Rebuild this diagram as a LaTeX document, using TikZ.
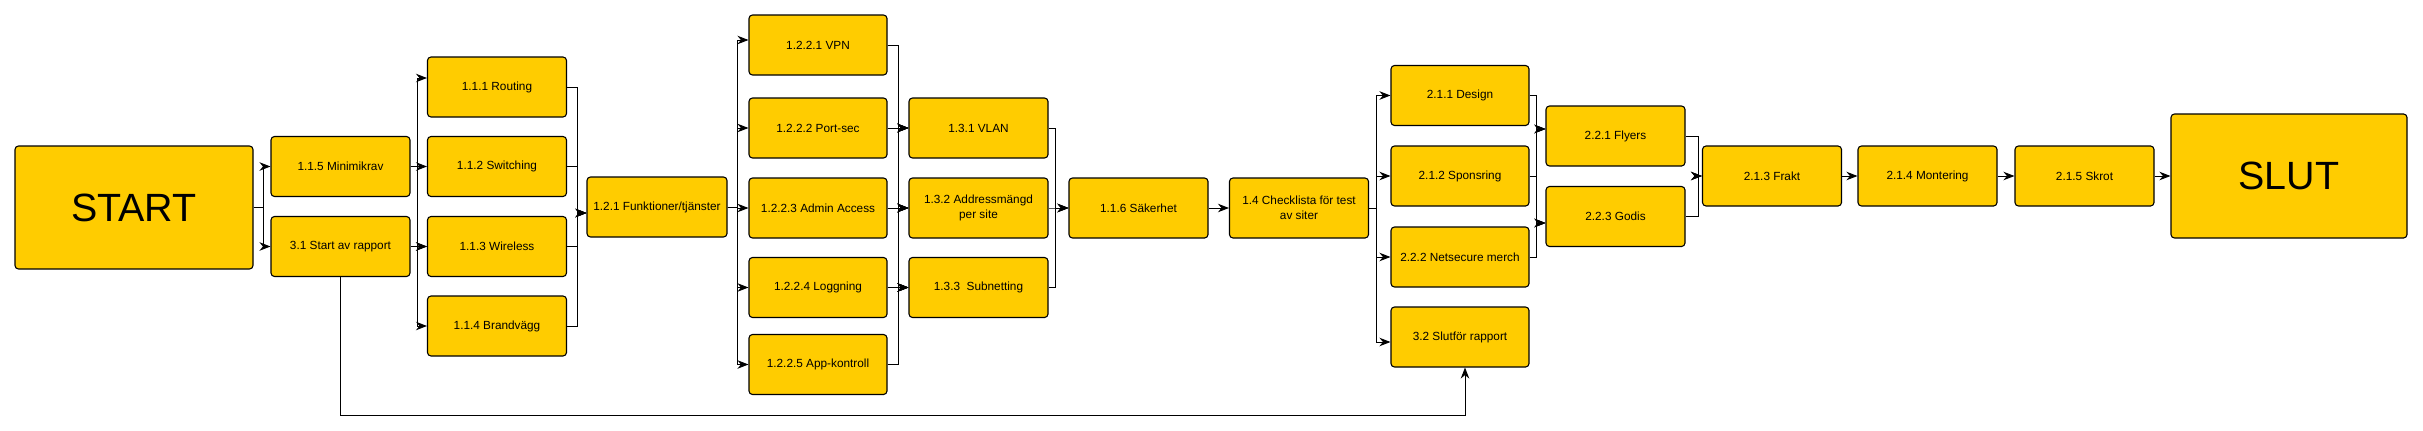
\documentclass[tikz,border=0pt]{standalone}
\usepackage{fontspec}
\setmainfont{Liberation Sans}
\usetikzlibrary{arrows.meta}
\definecolor{boxfill}{HTML}{FFCC00}
\begin{document}
\begin{tikzpicture}[x=1pt,y=-1pt,
  box/.style={draw=black,line width=1.1pt,fill=boxfill,rounded corners=3.5pt,
    minimum width=139pt,minimum height=60pt,inner sep=0pt,align=center,
    font=\fontsize{11.8}{15.3}\selectfont},
  bigbox/.style={box,font=\fontsize{39.4}{44}\selectfont},
  arr/.style={draw=black,line width=0.9pt,-{Stealth[length=11pt,width=8.5pt,inset=3.5pt]}},
  ln/.style={draw=black,line width=0.9pt}]
\useasboundingbox (0,0) rectangle (2423,431);
% nodes
\node[bigbox,minimum width=238pt,minimum height=123pt] (start) at (134,207.5) {START};
\node[box] (m115) at (340.5,166.5) {1.1.5 Minimikrav};
\node[box] (r31) at (340.5,246.5) {3.1 Start av rapport};
\node[box] (r111) at (497,87) {1.1.1 Routing};
\node[box] (r112) at (497,166.5) {1.1.2 Switching};
\node[box] (r113) at (497,246.5) {1.1.3 Wireless};
\node[box] (r114) at (497,326) {1.1.4 Brandvägg};
\node[box,minimum width=140pt] (f121) at (657,207) {1.2.1 Funktioner/tjänster};
\node[box,minimum width=138pt] (v1) at (818,45) {1.2.2.1 VPN};
\node[box,minimum width=138pt] (v2) at (818,128) {1.2.2.2 Port-sec};
\node[box,minimum width=138pt] (v3) at (818,208) {1.2.2.3 Admin Access};
\node[box,minimum width=138pt] (v4) at (818,287.5) {1.2.2.4 Loggning};
\node[box,minimum width=138pt] (v5) at (818,364.5) {1.2.2.5 App-kontroll};
\node[box] (l131) at (978.5,128) {1.3.1 VLAN};
\node[box] (l132) at (978.5,208) {1.3.2 Addressmängd\\per site};
\node[box] (l133) at (978.5,287.5) {1.3.3\ \ Subnetting};
\node[box] (s116) at (1138.5,208) {1.1.6 Säkerhet};
\node[box] (c14) at (1299,208) {1.4 Checklista för test\\av siter};
\node[box,minimum width=138pt] (d211) at (1460,95.5) {2.1.1 Design};
\node[box,minimum width=138pt] (d212) at (1460,176) {2.1.2 Sponsring};
\node[box,minimum width=138pt] (d222) at (1460,257) {2.2.2 Netsecure merch};
\node[box,minimum width=138pt] (d32) at (1460,337) {3.2 Slutför rapport};
\node[box] (g221) at (1615.5,136) {2.2.1 Flyers};
\node[box] (g223) at (1615.5,216.5) {2.2.3 Godis};
\node[box] (k213) at (1772,176) {2.1.3 Frakt};
\node[box] (k214) at (1927.5,176) {2.1.4 Montering};
\node[box] (k215) at (2084.5,176) {2.1.5 Skrot};
\node[bigbox,minimum width=236pt,minimum height=124pt] (slut) at (2289,176) {SLUT};
% connectors
\path[arr] (start.east) -- ++(10,0) |- (m115.west);
\path[arr] (start.east) -- ++(10,0) |- (r31.west);
\path[arr] (m115.east) -- ++(7,0) |- ([yshift=9pt]r111.west);
\path[arr] (m115.east) -- (r112.west);
\path[arr] (m115.east) -- ++(7,0) |- (r113.west);
\path[arr] (m115.east) -- ++(7,0) |- (r114.west);
\path[arr] (r31.east) -- (r113.west);
\foreach \n in {r111,r112,r113,r114}
  \path[arr] (\n.east) -- ++(10,0) |- ([yshift=-6pt]f121.west);
\path[arr] (f121.east) -- ++(10,0) |- ([yshift=5pt]v1.west);
\foreach \n in {v2,v3,v4,v5}
  \path[arr] (f121.east) -- ++(10,0) |- (\n.west);
\foreach \s in {v1,v2,v3,v4,v5}
  \foreach \t in {l131,l132,l133}
    \path[arr] (\s.east) -- ++(11,0) |- (\t.west);
\foreach \n in {l131,l132,l133}
  \path[arr] (\n.east) -- ++(7,0) |- (s116.west);
\path[arr] (s116.east) -- (c14.west);
\path[arr] (c14.east) -- ++(7.5,0) |- (d211.west);
\path[arr] (c14.east) -- ++(7.5,0) |- (d212.west);
\path[arr] (c14.east) -- ++(7.5,0) |- (d222.west);
\path[arr] (c14.east) -- ++(7.5,0) |- ([yshift=-5pt]d32.west);
\foreach \n in {d211,d212,d222} {
  \path[arr] (\n.east) -- ++(7,0) |- ([yshift=7pt]g221.west);
  \path[arr] (\n.east) -- ++(7,0) |- ([yshift=-6.5pt]g223.west);
}
\foreach \n in {g221,g223}
  \path[arr] (\n.east) -- ++(12.5,0) |- (k213.west);
\path[arr] (k213.east) -- (k214.west);
\path[arr] (k214.east) -- (k215.west);
\path[arr] (k215.east) -- (slut.west);
\coordinate (low) at (0,415);
\path[arr] (r31.south) -- (r31.south |- low) -| ([xshift=5pt]d32.south);
\end{tikzpicture}
\end{document}
